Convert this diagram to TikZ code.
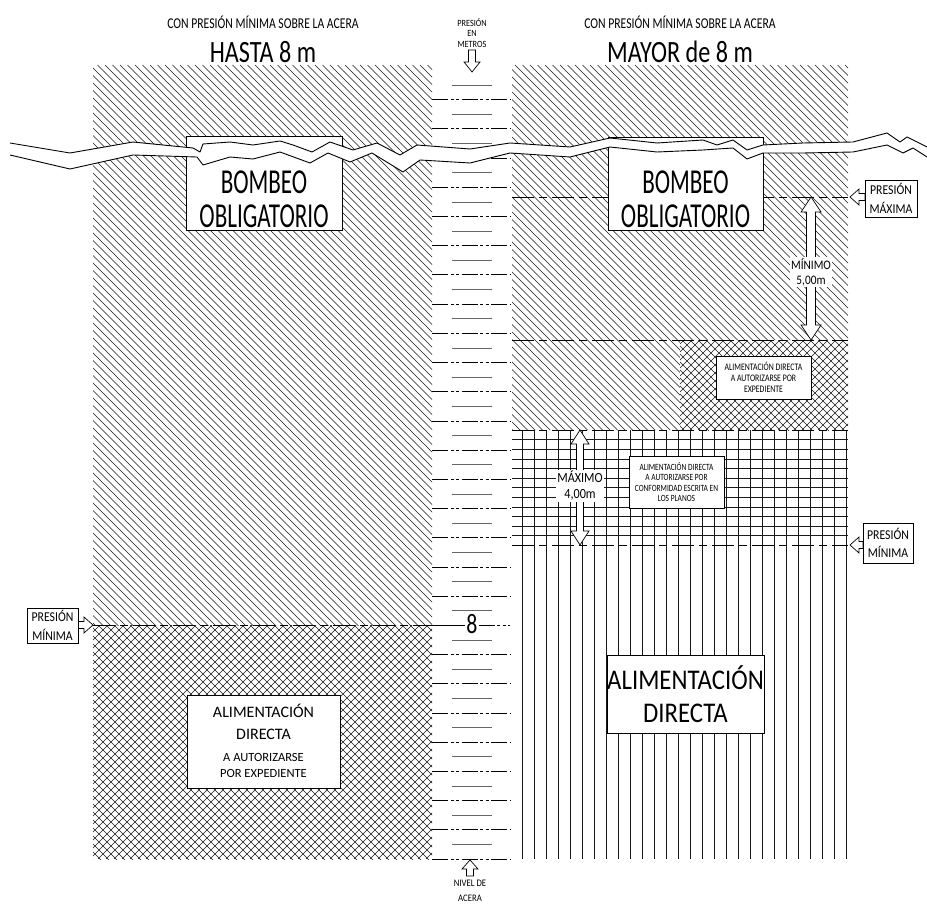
\documentclass[tikz,border=0pt]{standalone}
\usepackage{fontspec}
\setmainfont{Carlito}
\newfontfamily\fuenteA{Carlito}[FakeStretch=0.66]
\newfontfamily\fuenteB{Carlito}[FakeStretch=0.78]
\newfontfamily\fuenteC{Carlito}[FakeStretch=0.87]

% Flecha hueca: punta, giro, largo, largo cabeza, media cabeza, medio cuerpo
\newcommand{\flecha}[6]{%
  \draw[flechahueca, shift={#1}, rotate=#2] (0,0) -- (-#4,#5) -- (-#4,#6) -- (-#3,#6)
    -- (-#3,-#6) -- (-#4,-#6) -- (-#4,-#5) -- cycle;}
% Flecha hueca doble: punta inicial, giro, largo, largo cabeza, media cabeza, medio cuerpo
\newcommand{\flechadoble}[6]{%
  \draw[flechahueca, shift={#1}, rotate=#2] (0,0) -- (#4,#5) -- (#4,#6) -- ({#3-#4},#6)
    -- ({#3-#4},#5) -- (#3,0) -- ({#3-#4},-#5) -- ({#3-#4},-#6) -- (#4,-#6) -- (#4,-#5) -- cycle;}

\begin{document}
\begin{tikzpicture}[x=1pt, y=-1pt,
    rayado/.style={line width=0.5pt, black!90},
    presion/.style={line width=0.9pt, dash pattern=on 22pt off 5pt on 8pt off 5pt},
    cota/.style={line width=1pt, dash pattern=on 16pt off 2.5pt on 3pt off 2.5pt on 3pt off 2.5pt},
    subcota/.style={line width=0.8pt, black!60},
    caja/.style={draw, line width=0.8pt, fill=white, inner sep=0pt},
    flechahueca/.style={draw, fill=white, line width=0.7pt},
    tit/.style={font=\fuenteB\fontsize{15}{17}\selectfont},
    titg/.style={font=\fuenteB\fontsize{31}{33}\selectfont},
    bombeo/.style={font=\fuenteA\fontsize{35}{34}\selectfont, align=center},
    etiq/.style={font=\fuenteC\fontsize{13.5}{18.5}\selectfont, align=center},
    peq/.style={font=\fuenteB\fontsize{10}{11}\selectfont, align=center}]

    \useasboundingbox (0,0) rectangle (927,904);

    % ==================== TITULOS ====================
    \node[tit] (subIzq) at (263,22) {CON PRESIÓN MÍNIMA SOBRE LA ACERA};
    \node[titg] (titIzq) at (263,52) {HASTA 8 m};
    \node[tit] (subDer) at (680,22) {CON PRESIÓN MÍNIMA SOBRE LA ACERA};
    \node[titg] (titDer) at (680,52) {MAYOR de 8 m};

    % ==================== RAYADOS ====================
    % 1. Bombeo obligatorio izquierda (rayado diagonal)
    \begin{scope}
        \clip (93,65) rectangle (432,625);
        \foreach \x in {-480,-472.5,...,440} \draw[rayado] (\x,65) -- ++(570,570);
    \end{scope}

    % 2. Alimentacion por expediente izquierda (cuadriculado diagonal)
    \begin{scope}
        \clip (93,625) rectangle (432,859);
        \foreach \x in {-150,-142,...,440} {
            \draw[rayado] (\x,625) -- ++(240,240);
            \draw[rayado] (\x,859) -- ++(240,-240);
        }
    \end{scope}

    % 3. Bombeo obligatorio derecha
    \begin{scope}
        \clip (512,65) -- (848,65) -- (848,340) -- (680,340) -- (680,430) -- (512,430) -- cycle;
        \foreach \x in {140,147.5,...,850} \draw[rayado] (\x,65) -- ++(370,370);
    \end{scope}

    % 4. Alimentacion por expediente derecha
    \begin{scope}
        \clip (680,340) rectangle (848,430);
        \foreach \x in {570,578,...,850} {
            \draw[rayado] (\x,340) -- ++(100,100);
            \draw[rayado] (\x,430) -- ++(100,-100);
        }
    \end{scope}

    % 5. Alimentacion directa (verticales) y conformidad (cuadricula)
    \foreach \x in {522,534,...,846} \draw[rayado] (\x,430) -- (\x,859);
    \foreach \k in {1,...,11} \draw[rayado] (512,{430+9.6*\k}) -- (848,{430+9.6*\k});

    % ==================== LINEAS DE PRESION ====================
    \draw[presion] (512,197) -- (848,197);
    \draw[presion] (512,340) -- (848,340);
    \draw[presion] (512,430) -- (848,430);
    \draw[presion] (512,545) -- (848,545);
    \draw[presion] (93,625) -- (432,625);

    % ==================== ESCALA EN METROS ====================
    \foreach \k in {0,...,7,9,10,...,26}
        \draw[cota] (432,{859-29.2*\k}) -- (510,{859-29.2*\k});
    \foreach \k in {0,...,26}
        \draw[subcota] (452,{844.4-29.2*\k}) -- (492,{844.4-29.2*\k});
    \node[font=\fuenteB\fontsize{28}{28}\selectfont, inner sep=1pt] (ocho) at (472,624) {8};
    \draw[line width=1pt] (432,625.4) -- (ocho.west |- 0,625.4);
    \draw[cota] (ocho.east |- 0,625.4) -- (510,625.4);

    % ==================== CAJAS ====================
    \node[caja, minimum width=156, minimum height=94] (cajaBombeoIzq) at (264,183) {};
    \node[bombeo] (txtBombeoIzq) at (264,199) {BOMBEO\\OBLIGATORIO};
    \node[caja, minimum width=155, minimum height=93] (cajaBombeoDer) at (685.5,183.5) {};
    \node[bombeo] (txtBombeoDer) at (685.5,199) {BOMBEO\\OBLIGATORIO};

    \node[caja, minimum width=153, minimum height=93] (cajaExpIzq) at (263.5,741.5) {};
    \node[font=\fontsize{16}{22}\selectfont, align=center] (txtExpIzqA) at (263.5,722) {ALIMENTACIÓN\\DIRECTA};
    \node[font=\fontsize{12.5}{16}\selectfont, align=center] (txtExpIzqB) at (263.5,765) {A AUTORIZARSE\\POR EXPEDIENTE};

    \node[caja, peq, minimum width=95, minimum height=43] (cajaExpDer) at (763.5,377.5)
        {ALIMENTACIÓN DIRECTA\\A AUTORIZARSE POR\\EXPEDIENTE};
    \node[caja, peq, minimum width=95, minimum height=52, font=\fuenteB\fontsize{9.5}{10.4}\selectfont] (cajaConf) at (676.5,482)
        {ALIMENTACIÓN DIRECTA\\A AUTORIZARSE POR\\CONFORMIDAD ESCRITA EN\\LOS PLANOS};
    \node[caja, minimum width=157, minimum height=78, align=center,
        font=\fuenteC\fontsize{28.5}{33}\selectfont] (cajaDirecta) at (685.5,694) {ALIMENTACIÓN\\DIRECTA};

    % ==================== LINEA DE CORTE ====================
    \fill[white] (10,143) -- (70,153) -- (133,142) -- (193,148) -- (200,152) -- (203,144) -- (230,142)
        -- (253,145) -- (280,141) -- (293,145) -- (312,152) -- (330,142) -- (353,150) -- (377,143)
        -- (400,155) -- (417,145) -- (470,149) -- (510,143) -- (570,147) -- (610,138) -- (657,143)
        -- (703,140) -- (717,145) -- (733,140) -- (747,150) -- (763,145) -- (803,143) -- (853,142)
        -- (887,133) -- (900,142) -- (907,137) -- (927,147)
        -- (927,157) -- (913,148) -- (903,153) -- (887,145) -- (853,152) -- (803,153) -- (763,153)
        -- (747,159) -- (733,148) -- (703,150) -- (657,152) -- (610,147) -- (570,157) -- (510,153)
        -- (470,163) -- (420,160) -- (403,172) -- (372,153) -- (350,162) -- (328,153) -- (310,163)
        -- (280,152) -- (253,159) -- (230,157) -- (203,165) -- (197,157) -- (133,155) -- (70,169)
        -- (10,155) -- cycle;
    \draw[line width=0.9pt, line join=round] (10,143) -- (70,153) -- (133,142) -- (193,148) -- (200,152)
        -- (203,144) -- (230,142) -- (253,145) -- (280,141) -- (293,145) -- (312,152) -- (330,142)
        -- (353,150) -- (377,143) -- (400,155) -- (417,145) -- (470,149) -- (510,143) -- (570,147)
        -- (610,138) -- (657,143) -- (703,140) -- (717,145) -- (733,140) -- (747,150) -- (763,145)
        -- (803,143) -- (853,142) -- (887,133) -- (900,142) -- (907,137) -- (927,147);
    \draw[line width=0.9pt, line join=round] (10,155) -- (70,169) -- (133,155) -- (197,157) -- (203,165)
        -- (230,157) -- (253,159) -- (280,152) -- (310,163) -- (328,153) -- (350,162) -- (372,153)
        -- (403,172) -- (420,160) -- (470,163) -- (510,153) -- (570,157) -- (610,147) -- (657,152)
        -- (703,150) -- (733,148) -- (747,159) -- (763,153) -- (803,153) -- (853,152) -- (887,145)
        -- (903,153) -- (913,148) -- (927,157);

    % ==================== COTAS Y ETIQUETAS ====================
    \flechadoble{(811,197)}{-90}{143}{15}{10}{4.5}
    \node[etiq, fill=white, inner sep=1.5pt, font=\fuenteC\fontsize{13}{15}\selectfont] (txtMinimo) at (811,272) {MÍNIMO\\5,00m};
    \flechadoble{(580,430)}{-90}{115}{14}{9}{3.5}
    \node[etiq, fill=white, inner sep=1.5pt, font=\fuenteC\fontsize{14}{16}\selectfont] (txtMaximo) at (580,486) {MÁXIMO\\4,00m};

    \flecha{(850,197)}{180}{15}{9}{8}{3.5}
    \node[caja, etiq, minimum width=52, minimum height=37] (presMax) at (891,198.5) {PRESIÓN\\MÁXIMA};
    \flecha{(850,545)}{180}{13}{9}{8}{3.5}
    \node[caja, etiq, minimum width=50, minimum height=40] (presMinDer) at (888,543) {PRESIÓN\\MÍNIMA};
    \flecha{(93,625)}{0}{15}{9}{8}{3.5}
    \node[caja, etiq, minimum width=51, minimum height=35] (presMinIzq) at (52.5,625.5) {PRESIÓN\\MÍNIMA};

    \node[font=\fuenteC\fontsize{9.5}{10.5}\selectfont, align=center] (presMetros) at (472,33) {PRESIÓN\\EN\\METROS};
    \flecha{(472,72)}{-90}{22}{10}{8}{3.5}
    \flecha{(470,860)}{90}{16}{9}{8}{3.5}
    \node[font=\fuenteC\fontsize{10}{15}\selectfont, align=center] (nivelAcera) at (470,891) {NIVEL DE\\ACERA};

\end{tikzpicture}
\end{document}
